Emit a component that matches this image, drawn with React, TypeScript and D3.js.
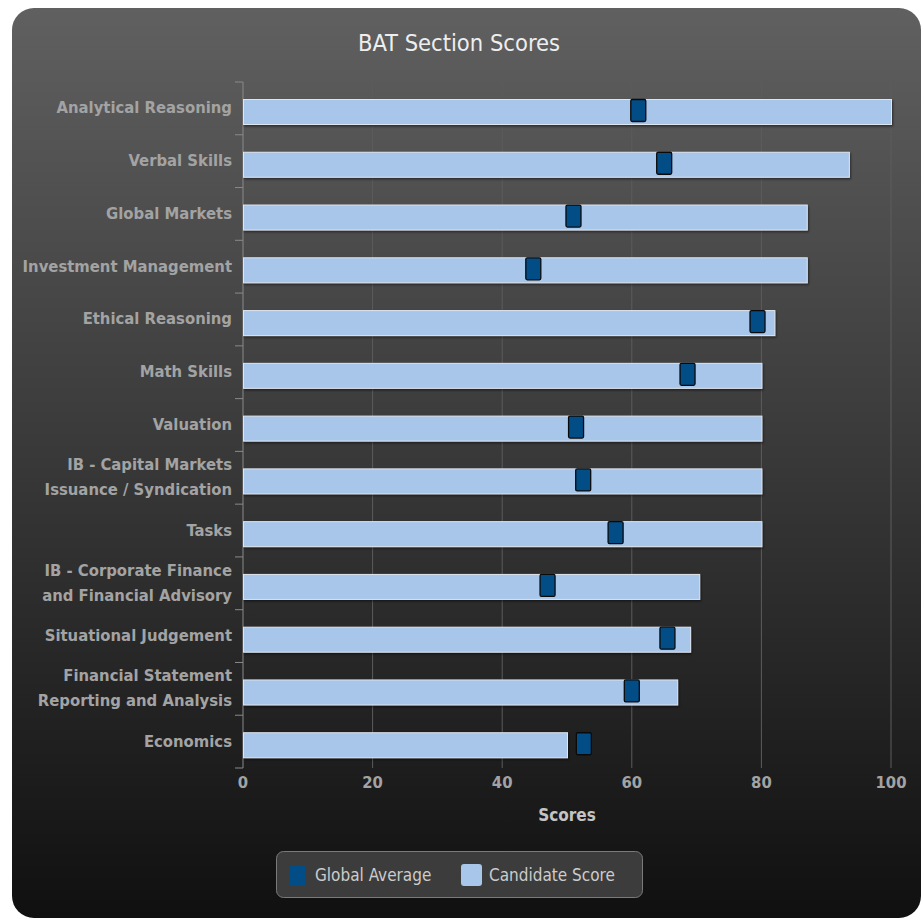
import React from 'react'
import * as d3 from 'd3'

const categories = [
  ['Analytical Reasoning'],
  ['Verbal Skills'],
  ['Global Markets'],
  ['Investment Management'],
  ['Ethical Reasoning'],
  ['Math Skills'],
  ['Valuation'],
  ['IB - Capital Markets', 'Issuance / Syndication'],
  ['Tasks'],
  ['IB - Corporate Finance', 'and Financial Advisory'],
  ['Situational Judgement'],
  ['Financial Statement', 'Reporting and Analysis'],
  ['Economics'],
]
const candidateScore = [100, 93.5, 87, 87, 82, 80, 80, 80, 80, 70.4, 69, 67, 50]
const globalAverage = [61, 65, 51, 44.8, 79.4, 68.6, 51.4, 52.5, 57.5, 47, 65.5, 60, 52.6]
const xTicks = [0, 20, 40, 60, 80, 100]

const W = 921
const H = 920
const font = '"DejaVu Sans Condensed", "DejaVu Sans", sans-serif'

export default function App() {
  const x = d3.scaleLinear().domain([0, 100]).range([243, 891])
  const y = d3.scaleBand<number>()
    .domain(d3.range(categories.length))
    .range([82, 768])
  const bw = y.bandwidth()

  return (
    <svg width={W} height={H} style={{ position: 'absolute', left: 0, top: 0 }} fontFamily={font}>
      <defs>
        <linearGradient id="bg" x1="0" y1="0" x2="0" y2="1">
          <stop offset="0" stopColor="#606060" />
          <stop offset="1" stopColor="#101010" />
        </linearGradient>
        <filter id="shadow" x="-5%" y="-20%" width="110%" height="160%">
          <feDropShadow dx="1" dy="1.5" stdDeviation="1.2" floodColor="#000" floodOpacity="0.5" />
        </filter>
      </defs>
      <rect x={12} y={8} width={909} height={910} rx={22} fill="url(#bg)" />

      <text x={459} y={51} textAnchor="middle" fill="#eeeeee" fontSize={23.5}>
        BAT Section Scores
      </text>

      {/* grid */}
      {xTicks.slice(1).map(t => (
        <line key={t} x1={x(t)} x2={x(t)} y1={82} y2={768} stroke="#5c5c5c" strokeWidth={1} />
      ))}

      {/* y axis */}
      <line x1={243} x2={243} y1={82} y2={768} stroke="#8a8a8a" strokeWidth={1} />
      {d3.range(categories.length + 1).map(i => {
        const yy = 82 + i * bw
        return <line key={i} x1={235} x2={243} y1={yy} y2={yy} stroke="#8a8a8a" strokeWidth={1} />
      })}
      {categories.map((lines, i) => {
        const cy = (y(i) ?? 0) + bw / 2
        const lh = 25
        const start = cy - ((lines.length - 1) * lh) / 2
        return (
          <text key={i} textAnchor="end" fill="#a3a3a3" fontSize={16.5} fontWeight="bold">
            {lines.map((l, j) => (
              <tspan key={j} x={232} y={start + j * lh + 5}>{l}</tspan>
            ))}
          </text>
        )
      })}

      {/* bars */}
      {candidateScore.map((v, i) => (
        <rect key={i} x={x(0) + 0.5} y={(y(i) ?? 0) + 17.5} width={x(v) - x(0)} height={25}
          fill="#a8c6ea" stroke="#dfe6ee" strokeWidth={1} filter="url(#shadow)" />
      ))}

      {/* global average markers */}
      {globalAverage.map((v, i) => (
        <rect key={i} x={x(v) - 7.5} y={(y(i) ?? 0) + 17.5} width={15} height={22} rx={1.5}
          fill="#034d87" stroke="#0a0a0a" strokeWidth={1.3} />
      ))}

      {/* x axis labels */}
      {xTicks.map(t => (
        <text key={t} x={x(t)} y={788} textAnchor="middle" fill="#a3a3a3" fontSize={16.5} fontWeight="bold">
          {t}
        </text>
      ))}
      <text x={567} y={821} textAnchor="middle" fill="#c4c4c4" fontSize={17} fontWeight="bold">
        Scores
      </text>

      {/* legend */}
      <rect x={276.5} y={851.5} width={366} height={46} rx={7} fill="#3c3c3c" stroke="#7a7a7a" strokeWidth={1} />
      <rect x={290} y={866} width={15} height={20} fill="#034d87" />
      <text x={315} y={881} fill="#cccccc" fontSize={17}>Global Average</text>
      <rect x={461} y={864} width={21} height={22} rx={3} fill="#a8c6ea" />
      <text x={489} y={881} fill="#cccccc" fontSize={17}>Candidate Score</text>
    </svg>
  )
}
